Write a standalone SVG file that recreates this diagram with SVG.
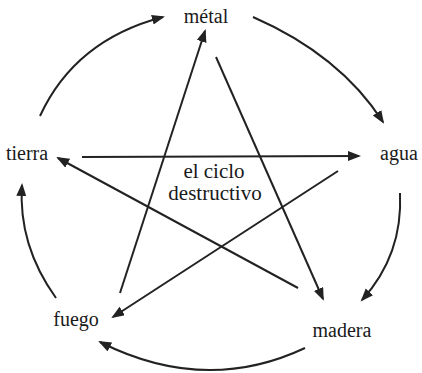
<svg xmlns="http://www.w3.org/2000/svg" width="422" height="373" viewBox="0 0 422 373">
<style>
.lbl{font-family:"Liberation Serif","Times New Roman",serif;font-size:20px;fill:#1a1a1a;text-anchor:middle}
.ctr{font-size:21px}
.c{fill:none;stroke:#222;stroke-width:2}
</style>
<defs>
<marker id="ah" markerUnits="userSpaceOnUse" markerWidth="14" markerHeight="11" refX="11" refY="5" orient="auto">
<path d="M0,0 L13,5 L0,10 z" fill="#222"/>
</marker>
</defs>
<rect width="422" height="373" fill="#fff"/>
<g id="connectors">
<path class="c" marker-end="url(#ah)" d="M40,116 Q75,40 163,17"/>
<path class="c" marker-end="url(#ah)" d="M253,17 Q340,55 383,122"/>
<path class="c" marker-end="url(#ah)" d="M400,193 Q403,255 362,300"/>
<path class="c" marker-end="url(#ah)" d="M305,348 Q205,395 100,342"/>
<path class="c" marker-end="url(#ah)" d="M56,298 Q18,245 22,185"/>
<path class="c" marker-end="url(#ah)" d="M120,293 L205,31"/>
<path class="c" marker-end="url(#ah)" d="M216,57 L323,299"/>
<path class="c" marker-end="url(#ah)" d="M298,288 L58,158"/>
<path class="c" marker-end="url(#ah)" d="M82,157 L359,156"/>
<path class="c" marker-end="url(#ah)" d="M338,171 L113,317"/>
</g>
<g id="metal"><text class="lbl" x="206" y="23">métal</text></g>
<g id="agua"><text class="lbl" x="399" y="160">agua</text></g>
<g id="madera"><text class="lbl" x="342" y="337">madera</text></g>
<g id="fuego"><text class="lbl" x="76" y="326">fuego</text></g>
<g id="tierra"><text class="lbl" x="27" y="160">tierra</text></g>
<g id="centro"><text class="lbl ctr" x="214" y="178">el ciclo</text><text class="lbl ctr" x="215" y="200">destructivo</text></g>
</svg>
